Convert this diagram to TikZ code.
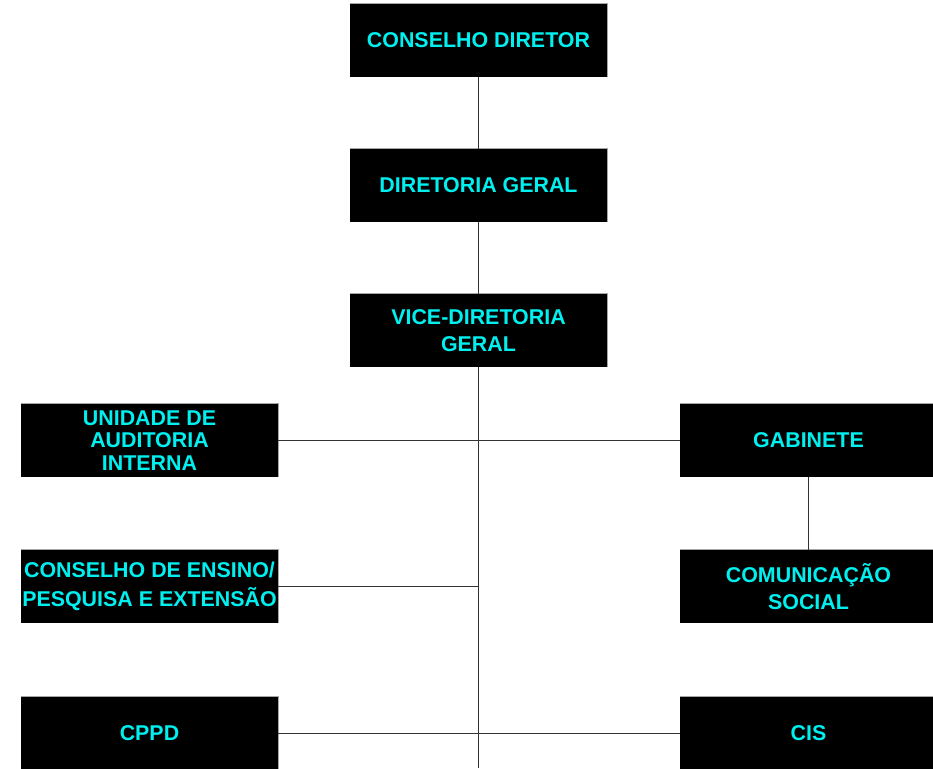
\documentclass[tikz,border=0pt]{standalone}
\usepackage{fontspec}
\setmainfont{Liberation Sans}
\usepackage{xcolor}
\usepackage{tikz}
\usetikzlibrary{positioning, calc}
\definecolor{orgcyan}{RGB}{0,240,240}
\tikzset{
	orgbox/.style={fill=black, text=orgcyan, inner sep=0pt, minimum width=257pt, minimum height=73pt, align=center, font=\bfseries\fontsize{21.4}{27}\selectfont},
	orgline/.style={draw=black!80, line width=0.8pt},
	boxedge/.style={draw=gray!70, line width=0.8pt},
}
\begin{document}
\begin{tikzpicture}[x=1pt, y=-1pt]
	\useasboundingbox (0,0) rectangle (933,768);
	% Top chain
	\node[orgbox] (cd) at (478.5,40.5) {CONSELHO DIRETOR};
	\node[orgbox] (dg) at (478.5,185.5) {DIRETORIA GERAL};
	\node[orgbox] (vdg) at (478.5,330.5) {VICE-DIRETORIA\\GERAL};

	% Left column
	\node[orgbox, font=\bfseries\fontsize{21.4}{22.5}\selectfont] (audit) at (149.5,440.5) {UNIDADE DE\\AUDITORIA\\INTERNA};
	\node[orgbox, font=\bfseries\fontsize{21.4}{29}\selectfont] (cepe) at (149.5,586.5) {CONSELHO DE ENSINO/\\PESQUISA E EXTENSÃO};
	\node[orgbox] (cppd) at (149.5,733.5) {CPPD};

	% Right column
	\node[orgbox] (gab) at (808.5,440.5) {GABINETE};
	\node[orgbox] (comsoc) at (808.5,586.5) {COMUNICAÇÃO\\SOCIAL};
	\node[orgbox] (cis) at (808.5,733.5) {CIS};

	% Grey edge on top and right of every box
	\foreach \n in {cd, dg, vdg, audit, cepe, cppd, gab, comsoc, cis}
		\draw[boxedge] (\n.north west) -- (\n.north east) -- (\n.south east);

	% Connectors
	\coordinate (trunkend) at (478.5,768);
	\draw[orgline] (cd) -- (dg);
	\draw[orgline] (dg) -- (vdg);
	\draw[orgline] (vdg) -- (trunkend);
	\draw[orgline] (audit.east) -- (gab.west);
	\draw[orgline] (cepe.east) -- (cepe.east -| trunkend);
	\draw[orgline] (cppd.east) -- (cis.west);
	\draw[orgline] (gab) -- (comsoc);
\end{tikzpicture}
\end{document}
